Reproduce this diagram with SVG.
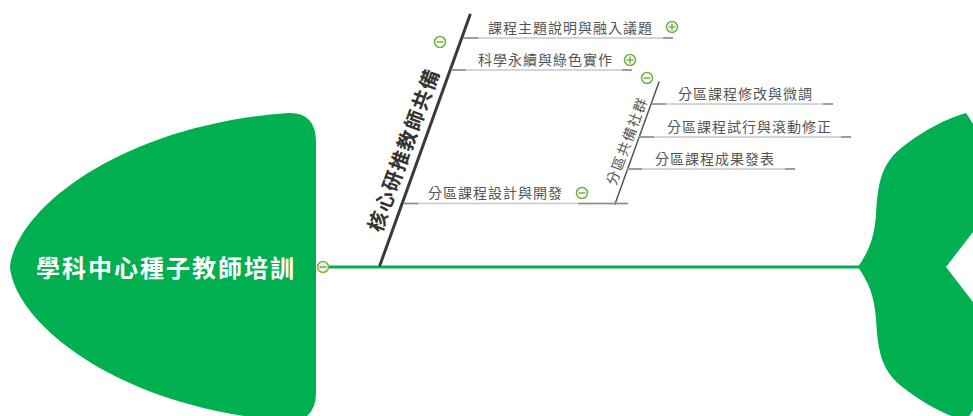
<svg xmlns="http://www.w3.org/2000/svg" width="973" height="416" viewBox="0 0 973 416">
<style>
.t{font-family:"Noto Sans CJK TC","Noto Sans CJK SC",sans-serif;font-size:14px;fill:#555;letter-spacing:1px}
.br{stroke:#c8c8c8;stroke-width:1.5;fill:none}
.end{stroke:#8a8a8a;stroke-width:1.5;fill:none}
.ic{fill:#fff;stroke:#6cb33f;stroke-width:1.5}
.sg{stroke:#6cb33f;stroke-width:1.5;fill:none}
.bone{stroke:#3a3a3a;stroke-width:3;stroke-linecap:round;fill:none}
</style>
<rect width="973" height="416" fill="#fff"/>
<g id="connectors">
<line x1="329" y1="267" x2="860" y2="267" stroke="#00b050" stroke-width="3"/>
<line class="bone" x1="380" y1="265" x2="470" y2="15"/>
<line class="bone" style="stroke-width:1.5;stroke:#555" x1="615" y1="204" x2="659" y2="82"/>
<line class="br" x1="463" y1="38" x2="673" y2="38"/><line class="end" x1="463" y1="38" x2="478" y2="38"/><line class="end" x1="663" y1="38" x2="673" y2="38"/>
<line class="br" x1="451" y1="70" x2="632" y2="70"/><line class="end" x1="451" y1="70" x2="466" y2="70"/><line class="end" x1="622" y1="70" x2="632" y2="70"/>
<line class="br" x1="403" y1="203.5" x2="628" y2="203.5"/><line class="end" x1="403" y1="203.5" x2="418" y2="203.5"/><line class="end" x1="578" y1="203.5" x2="628" y2="203.5"/>
<line class="br" x1="651" y1="104" x2="833" y2="104"/><line class="end" x1="651" y1="104" x2="666" y2="104"/><line class="end" x1="823" y1="104" x2="833" y2="104"/>
<line class="br" x1="639" y1="137" x2="851" y2="137"/><line class="end" x1="639" y1="137" x2="654" y2="137"/><line class="end" x1="841" y1="137" x2="851" y2="137"/>
<line class="br" x1="627" y1="169" x2="795" y2="169"/><line class="end" x1="627" y1="169" x2="642" y2="169"/><line class="end" x1="785" y1="169" x2="795" y2="169"/>
</g>
<g id="head">
<path d="M10,267 C15,210 120,125 288,113 Q316,112 316,142 L316,392 Q316,422 288,421 C120,409 15,324 10,267 Z" fill="#00b050"/>
<text x="166" y="277" text-anchor="middle" style="font-family:'Noto Sans CJK TC','Noto Sans CJK SC',sans-serif;font-size:24px;font-weight:bold;fill:#fff;letter-spacing:2px">學科中心種子教師培訓</text>
<circle cx="323" cy="267" r="5.5" fill="#eef3e8" stroke="#7cb342" stroke-width="1.5"/>
<line x1="319.5" y1="267" x2="326.5" y2="267" stroke="#7a9a6a" stroke-width="1.5"/>
</g>
<g id="tail">
<path d="M858,267 C868,252 874,240 876,215 C878,180 882,162 905,145 C925,130 945,119 966,113 L990,150 L990,210 L946,267 L990,324 L990,384 L966,421 C945,415 925,404 905,389 C882,372 878,354 876,319 C874,294 868,282 858,267 Z" fill="#00b050"/>
</g>
<g id="bone-core">
<text transform="translate(404,150) rotate(-70)" y="7" text-anchor="middle" style="font-family:'Noto Sans CJK TC','Noto Sans CJK SC',sans-serif;font-size:20px;font-weight:bold;fill:#333;letter-spacing:1.5px">核心研推教師共備</text>
<circle class="ic" cx="440" cy="42" r="5.5"/><line class="sg" x1="436.5" y1="42" x2="443.5" y2="42"/>
</g>
<g id="node-topic">
<text class="t" x="488" y="33">課程主題說明與融入議題</text>
<circle class="ic" cx="672" cy="27" r="5.5"/><line class="sg" x1="668.5" y1="27" x2="675.5" y2="27"/><line class="sg" x1="672" y1="23.5" x2="672" y2="30.5"/>
</g>
<g id="node-green">
<text class="t" x="478" y="65">科學永續與綠色實作</text>
<circle class="ic" cx="630" cy="60" r="5.5"/><line class="sg" x1="626.5" y1="60" x2="633.5" y2="60"/><line class="sg" x1="630" y1="56.5" x2="630" y2="63.5"/>
</g>
<g id="node-design">
<text class="t" x="428" y="198">分區課程設計與開發</text>
<circle class="ic" cx="582" cy="193" r="5.5"/><line class="sg" x1="578.5" y1="193" x2="585.5" y2="193"/>
</g>
<g id="node-community">
<text class="t" transform="translate(627,141) rotate(-69.6)" y="5" text-anchor="middle" style="letter-spacing:1.5px">分區共備社群</text>
<circle class="ic" cx="647" cy="78" r="5.5"/><line class="sg" x1="643.5" y1="78" x2="650.5" y2="78"/>
</g>
<g id="node-modify"><text class="t" x="678" y="99">分區課程修改與微調</text></g>
<g id="node-trial"><text class="t" x="667" y="132">分區課程試行與滾動修正</text></g>
<g id="node-result"><text class="t" x="655" y="164">分區課程成果發表</text></g>
</svg>
